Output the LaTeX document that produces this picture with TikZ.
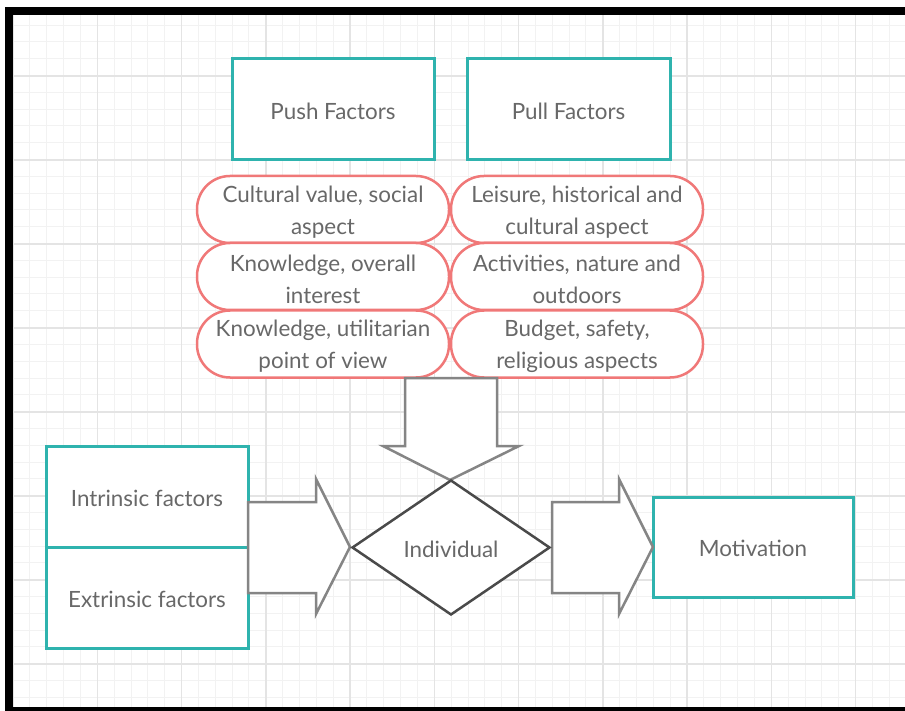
\documentclass[tikz,border=0pt]{standalone}
\usepackage{fontspec}
\setmainfont{Lato}
\usetikzlibrary{shapes.geometric}
\definecolor{tealline}{HTML}{2FB3AE}
\definecolor{salmonline}{HTML}{F07878}
\definecolor{labeltext}{HTML}{686868}
\definecolor{arrowgray}{HTML}{858585}
\definecolor{darkline}{HTML}{4A4A4A}
\definecolor{gridmajor}{HTML}{E4E4E4}
\definecolor{gridminor}{HTML}{F2F2F2}
\begin{document}
\begin{tikzpicture}[x=1pt,y=-1pt,
  labelfont/.style={font=\fontsize{22.4}{32}\selectfont, text=labeltext},
  box/.style={draw=tealline, line width=3pt, fill=white, inner sep=0pt,
              minimum width=202pt, minimum height=101pt},
  pill/.style={draw=salmonline, line width=2.5pt, fill=white, inner sep=0pt,
               rounded corners=33pt, minimum width=252pt, minimum height=67pt},
  inside/.style={labelfont, align=center, inner sep=0pt, yshift=-#1},
  inside/.default=1.5pt,
  blockarrow/.style={draw=arrowgray, line width=2.5pt, fill=white, line join=miter},
  decision/.style={draw=darkline, line width=2.5pt, fill=white, shape=diamond,
                   inner sep=0pt, minimum width=198pt, minimum height=135pt},
]
\useasboundingbox (0,0) rectangle (905,711);

% canvas with grid
\fill[white] (0,0) rectangle (905,711);
\begin{scope}
  \clip (13,15) rectangle (905,707);
  \foreach \i in {-5,...,55} {
    \draw[gridminor, line width=1pt] ({13.05+16.85*\i},15) -- ({13.05+16.85*\i},707);
  }
  \foreach \j in {-5,...,45} {
    \draw[gridminor, line width=1pt] (13,{8.4+16.8*\j}) -- (905,{8.4+16.8*\j});
  }
  \foreach \i in {-1,...,10} {
    \draw[gridmajor, line width=1.4pt] ({13.05+84.25*\i},15) -- ({13.05+84.25*\i},707);
  }
  \foreach \j in {-1,...,8} {
    \draw[gridmajor, line width=1.4pt] (13,{-8+84*\j}) -- (905,{-8+84*\j});
  }
\end{scope}

% black frame
\fill[black] (5,7) rectangle (13,711);
\fill[black] (5,7) rectangle (905,15);
\fill[black] (5,707) rectangle (905,711);

% factor headers
\node[box, label={[inside]center:Push Factors}] (push) at (333,109.5) {};
\node[box, minimum width=203pt, label={[inside]center:Pull Factors}] (pull) at (568.5,109.5) {};

% push factor items
\node[pill, label={[inside=2.5pt]center:{Cultural value, social\\aspect}}] (push1) at (323,209.5) {};
\node[pill, label={[inside=2.5pt]center:{Knowledge, overall\\interest}}] (push2) at (323,276.5) {};
\node[pill, label={[inside=2.5pt]center:{Knowledge, utilitarian\\point of view}}] (push3) at (323,344) {};

% pull factor items
\node[pill, label={[inside=2.5pt]center:{Leisure, historical and\\cultural aspect}}] (pull1) at (577,209.5) {};
\node[pill, label={[inside=2.5pt]center:{Activities, nature and\\outdoors}}] (pull2) at (577,276.5) {};
\node[pill, label={[inside=2.5pt]center:{Budget, safety,\\religious aspects}}] (pull3) at (577,344) {};

% intrinsic / extrinsic
\node[box, label={[inside]center:Intrinsic factors}] (intr) at (147,496.5) {};
\node[box, label={[inside]center:Extrinsic factors}] (extr) at (147,597.5) {};

% motivation
\node[box, minimum width=200pt, minimum height=100pt, label={[inside]center:Motivation}] (motiv) at (753,547) {};

% block arrows
\draw[blockarrow] (405,378) -- (497,378) -- (497,446) -- (519,446) -- (450,480)
  -- (383,446) -- (405,446) -- cycle;
\draw[blockarrow] (248,502) -- (316,502) -- (316,479) -- (350,547) -- (316,614)
  -- (316,593) -- (248,593) -- cycle;
\draw[blockarrow] (552,502) -- (619,502) -- (619,479) -- (653,547) -- (619,614)
  -- (619,593) -- (552,593) -- cycle;

% individual
\node[decision, label={[inside]center:Individual}] (indiv) at (451,547.5) {};
\end{tikzpicture}
\end{document}
